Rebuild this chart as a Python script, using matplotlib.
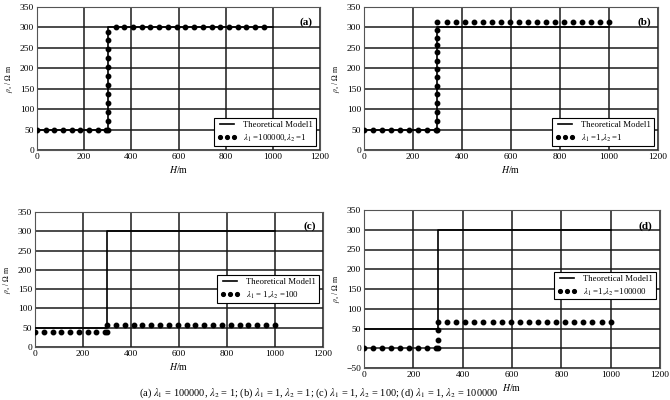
import numpy as np
import matplotlib
matplotlib.use('Agg')
import matplotlib.pyplot as plt

plt.rcParams['font.family'] = ['Liberation Serif', 'DejaVu Serif']
plt.rcParams['mathtext.fontset'] = 'stix'

# Theoretical two-layer model
model_x = [0, 300, 300, 1000]
model_y = [50, 50, 300, 300]

# Inverted results
x_a = [0, 37, 73, 110, 147, 183, 220, 257, 293] + [300] * 12 + \
      [333, 370, 407, 444, 481, 518, 555, 592, 629, 666, 703, 740, 777, 814, 851, 888, 925, 962]
y_a = [50] * 9 + [50, 72, 94, 116, 138, 160, 182, 204, 226, 248, 270, 290] + [300] * 18

top_x = [300, 337, 374, 411, 447, 484, 521, 558, 595, 632, 668, 705, 742, 779, 816, 853, 889, 926, 963, 1000]
low_x = [0, 36.5, 73, 109.5, 146, 182.5, 219, 255.5, 292]

x_b = low_x + [300] * 13 + top_x
y_b = [50] * 9 + [50, 72, 94, 116, 137, 157, 178, 199, 218, 239, 258, 274, 293] + [313] * 20

x_c = low_x + [300] + top_x
y_c = [38] * 10 + [56] * 20

x_d = low_x + [300, 300, 300] + top_x
y_d = [0] * 10 + [22, 45] + [67] * 20

labels = [r'$\lambda_1$ =100000,$\lambda_2$ =1',
          r'$\lambda_1$ =1,$\lambda_2$ =1',
          r'$\lambda_1$ = 1,$\lambda_2$ =100',
          r'$\lambda_1$ =1,$\lambda_2$ =100000']
tags = ['(a)', '(b)', '(c)', '(d)']
data = [(x_a, y_a), (x_b, y_b), (x_c, y_c), (x_d, y_d)]

W, H = 670, 400
fig = plt.figure(figsize=(6.7, 4.0), dpi=100)
# axes boxes in pixels: left, top, right, bottom
boxes = [(37, 7, 320, 150), (364, 7, 658, 150), (35, 212, 323, 347), (364, 210, 660, 368)]
legend_loc = ['lower right', 'lower right', 'center right', 'center right']
legend_anchor = [(1, 0), (1, 0), (1, 0.43), (1, 0.52)]

for i in range(4):
    l, t, r, b = boxes[i]
    ax = fig.add_axes([l / W, 1 - b / H, (r - l) / W, (b - t) / H])
    xs, ys = data[i]
    ax.plot(model_x, model_y, color='black', lw=1.2, label='Theoretical Model1', zorder=3)
    ax.plot(xs, ys, 'o', color='black', ms=3.2, label=labels[i], zorder=4)
    ax.set_xlim(0, 1200)
    ax.set_xticks(np.arange(0, 1201, 200))
    if i == 3:
        ax.set_ylim(-50, 350)
        ax.set_yticks(np.arange(-50, 351, 50))
    else:
        ax.set_ylim(0, 350)
        ax.set_yticks(np.arange(0, 351, 50))
    ax.grid(True, color='#1a1a1a', lw=1.1)
    ax.set_axisbelow(True)
    for s in ax.spines.values():
        s.set_color('#555555')
        s.set_linewidth(0.8)
    ax.tick_params(length=0, labelsize=6.8, pad=2)
    ax.set_xlabel(r'$H$/m', fontsize=7, labelpad=2)
    ax.set_ylabel(r'$\rho_s$ / $\Omega$ m', fontsize=5.5)
    ax.yaxis.set_label_coords(-22 / (r - l), 0.5)
    ax.text(0.975, 0.93, tags[i], transform=ax.transAxes, ha='right', va='top',
            fontsize=8, fontweight='bold')
    leg = ax.legend(loc=legend_loc[i], bbox_to_anchor=legend_anchor[i], fontsize=6.3,
                    numpoints=3, fancybox=False, framealpha=1, edgecolor='black',
                    handlelength=2.2, borderpad=0.3, labelspacing=0.4, markerscale=0.85)
    leg.get_frame().set_linewidth(0.8)

fig.text(0.475, 0.017, r'(a) $\lambda_1$ = 100000, $\lambda_2$ = 1; (b) $\lambda_1$ = 1, $\lambda_2$ = 1; '
         r'(c) $\lambda_1$ = 1, $\lambda_2$ = 100; (d) $\lambda_1$ = 1, $\lambda_2$ = 100000',
         ha='center', va='center', fontsize=7.5)

fig.savefig('out.png', dpi=100)
